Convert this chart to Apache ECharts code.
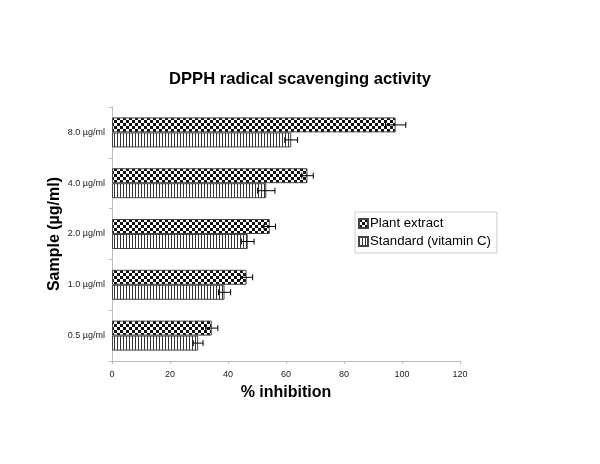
<!DOCTYPE html>
<html><head><meta charset="utf-8">
<script src="https://cdn.jsdelivr.net/npm/echarts@6/dist/echarts.min.js"></script>
<style>html,body{margin:0;padding:0;background:#fff}#c{width:600px;height:464px}</style>
</head><body><div id="c"></div>
<script>
var categories = ['0.5 µg/ml', '1.0 µg/ml', '2.0 µg/ml', '4.0 µg/ml', '8.0 µg/ml'];
var plantValues = [34.4, 46.4, 54.4, 67.4, 97.8];
var plantErrors = [2.1, 2.1, 2.0, 2.0, 3.5];
var standardValues = [29.7, 38.8, 46.8, 53.2, 61.8];
var standardErrors = [1.7, 2.1, 2.2, 3.0, 2.2];
var xTicks = [0, 20, 40, 60, 80, 100, 120];

function makePattern(kind) {
  var c = document.createElement('canvas');
  var ctx;
  if (kind === 'check') {
    c.width = 6; c.height = 6; ctx = c.getContext('2d');
    ctx.fillStyle = '#fff'; ctx.fillRect(0, 0, 6, 6);
    ctx.fillStyle = '#111'; ctx.fillRect(0, 0, 3, 3); ctx.fillRect(3, 3, 3, 3);
  } else {
    c.width = 3; c.height = 3; ctx = c.getContext('2d');
    ctx.fillStyle = '#fff'; ctx.fillRect(0, 0, 3, 3);
    ctx.fillStyle = '#333'; ctx.fillRect(0, 0, 1, 3);
  }
  return { image: c, repeat: 'repeat' };
}

var BAR_W = 15;
function errRender(values, errors, side) {
  return function (params, api) {
    var i = params.dataIndex;
    var v = values[i], e = errors[i];
    var c = api.coord([v, i]);
    var y = c[1] + side * BAR_W / 2;
    var x1 = api.coord([v - e, i])[0];
    var x2 = api.coord([v + e, i])[0];
    var h = 3;
    var st = { stroke: '#000', lineWidth: 1 };
    return {
      type: 'group',
      children: [
        { type: 'line', shape: { x1: x1, y1: y, x2: x2, y2: y }, style: st },
        { type: 'line', shape: { x1: x1, y1: y - h, x2: x1, y2: y + h }, style: st },
        { type: 'line', shape: { x1: x2, y1: y - h, x2: x2, y2: y + h }, style: st }
      ]
    };
  };
}

var chart = echarts.init(document.getElementById('c'), null, { renderer: 'canvas' });
var fontFam = '"Liberation Sans", Arial, Helvetica, sans-serif';
chart.setOption({
  animation: false,
  backgroundColor: '#fff',
  textStyle: { fontFamily: fontFam },
  title: {
    text: 'DPPH radical scavenging activity',
    left: 'center', top: 66,
    textStyle: { fontSize: 16.6, fontWeight: 'bold', color: '#000', fontFamily: fontFam }
  },
  legend: {
    orient: 'vertical',
    left: 355, top: 212,
    data: [
      { name: 'Plant extract', icon: 'rect' },
      { name: 'Standard (vitamin C)', icon: 'rect' }
    ],
    itemWidth: 9, itemHeight: 9, itemGap: 5,
    padding: [5, 6, 5, 3],
    borderColor: '#ccc', borderWidth: 1,
    textStyle: { fontSize: 13.2, color: '#000', padding: [0, 0, 0, -3] }
  },
  grid: { left: 112, right: 140, top: 107, bottom: 103 },
  xAxis: {
    type: 'value', min: 0, max: 120, interval: 20,
    name: '% inhibition', nameLocation: 'middle', nameGap: 24,
    nameTextStyle: { fontSize: 16, fontWeight: 'bold', color: '#000' },
    axisLine: { show: true, lineStyle: { color: '#bbb' } },
    axisTick: { show: true, length: 3, lineStyle: { color: '#bbb' } },
    axisLabel: { fontSize: 9, color: '#222', margin: 9,
      formatter: function (v) { return xTicks.indexOf(v) >= 0 ? String(v) : ''; } },
    splitLine: { show: false }
  },
  yAxis: {
    type: 'category', data: categories,
    name: 'Sample (µg/ml)', nameLocation: 'middle', nameGap: 49,
    nameMoveOverlap: false,
    nameTextStyle: { fontSize: 16, fontWeight: 'bold', color: '#000' },
    axisLine: { show: true, lineStyle: { color: '#bbb' } },
    axisTick: { show: true, length: 3, lineStyle: { color: '#bbb' } },
    axisLabel: { fontSize: 9, color: '#222', margin: 7 }
  },
  series: [
    {
      name: 'Plant extract', type: 'bar', data: plantValues,
      barWidth: BAR_W, barGap: '0%',
      itemStyle: { color: makePattern('check'), borderColor: '#444', borderWidth: 1 }
    },
    {
      name: 'Standard (vitamin C)', type: 'bar', data: standardValues,
      barWidth: BAR_W, barGap: '0%',
      itemStyle: { color: makePattern('lines'), borderColor: '#444', borderWidth: 1 }
    },
    {
      type: 'custom', name: 'errPlant', data: plantValues.map(function (v, i) { return [v, i]; }),
      renderItem: errRender(plantValues, plantErrors, -1), z: 10, silent: true
    },
    {
      type: 'custom', name: 'errStd', data: standardValues.map(function (v, i) { return [v, i]; }),
      renderItem: errRender(standardValues, standardErrors, 1), z: 10, silent: true
    }
  ]
});
</script>
</body></html>
